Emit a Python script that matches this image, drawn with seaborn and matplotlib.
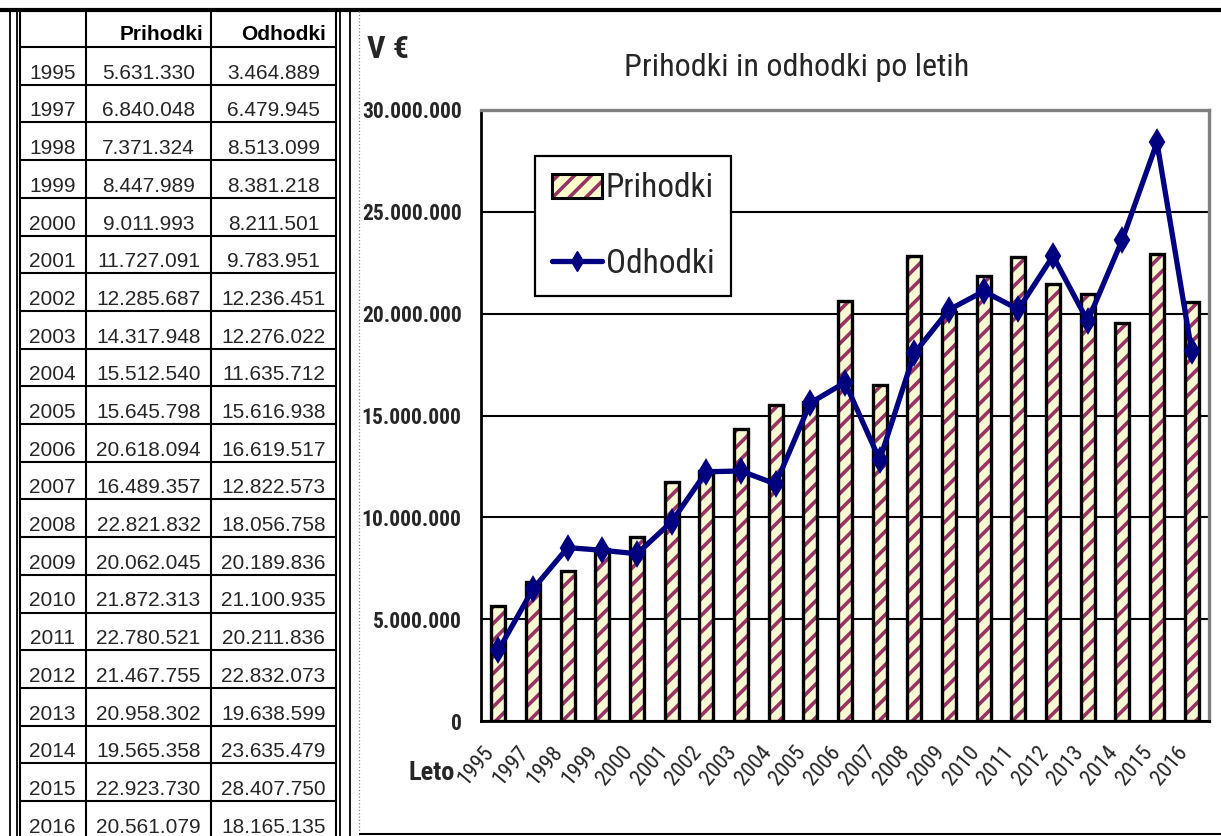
import numpy as np
import pandas as pd
import matplotlib
matplotlib.use("Agg")
import matplotlib.pyplot as plt
import seaborn as sns
from matplotlib import font_manager
from matplotlib.lines import Line2D
from matplotlib.patches import Patch

# ---------------- data ----------------
years = ["1995", "1997", "1998", "1999", "2000", "2001", "2002", "2003", "2004",
         "2005", "2006", "2007", "2008", "2009", "2010", "2011", "2012", "2013",
         "2014", "2015", "2016"]
prihodki = [5631330, 6840048, 7371324, 8447989, 9011993, 11727091, 12285687,
            14317948, 15512540, 15645798, 20618094, 16489357, 22821832, 20062045,
            21872313, 22780521, 21467755, 20958302, 19565358, 22923730, 20561079]
odhodki = [3464889, 6479945, 8513099, 8381218, 8211501, 9783951, 12236451,
           12276022, 11635712, 15616938, 16619517, 12822573, 18056758, 20189836,
           21100935, 20211836, 22832073, 19638599, 23635479, 28407750, 18165135]
series_names = ["Prihodki", "Odhodki"]
y_ticks = [0, 5000000, 10000000, 15000000, 20000000, 25000000, 30000000]
title_text = "Prihodki in odhodki po letih"
unit_text = "V €"
xlabel_text = "Leto"

# ---------------- style ----------------
sns.set_style("white")
names = {f.name for f in font_manager.fontManager.ttflist}
narrow = None
for cand in ["Roboto Condensed", "Liberation Sans Narrow", "Arial Narrow"]:
    if cand in names:
        narrow = cand
        break
if narrow is None:
    narrow = "Liberation Sans" if "Liberation Sans" in names else "DejaVu Sans"
    ns = 0.8
else:
    ns = 1.0
table_font = "Liberation Sans" if "Liberation Sans" in names else "DejaVu Sans"
plt.rcParams["font.family"] = [table_font, "DejaVu Sans"]
plt.rcParams["hatch.linewidth"] = 2.6

W, H = 1221, 836
fig = plt.figure(figsize=(W / 100, H / 100), dpi=100)

# ---------------- page / table background ----------------
bg = fig.add_axes([0, 0, 1, 1], zorder=0)
bg.set_xlim(0, W)
bg.set_ylim(H, 0)
bg.axis("off")

bg.hlines(9.5, 0, W, color="black", lw=3.0)
row0, rowh = 47.0, 37.7
table_bottom = H
for x, lw in [(10, 1.3), (16.5, 1.3), (19.5, 1.5), (86, 1.5), (211, 1.5),
              (336, 1.5), (339.5, 1.3), (350, 1.3)]:
    bg.vlines(x, 10, table_bottom, color="black", lw=lw)
for k in range(len(years) + 1):
    y = row0 + rowh * k
    if y < H:
        bg.hlines(y, 19.5, 336, color="black", lw=1.5)

def fmt(v):
    return f"{int(v):,}".replace(",", ".")

col_centers = [52.5, 148.5, 273.5]
col_rights = [None, 203, 326]
for j, name in enumerate(series_names):
    bg.text(col_rights[j + 1], 40, name, ha="right", va="baseline",
            fontsize=15, fontweight="bold", color="black")
for i, yr in enumerate(years):
    yb = row0 + rowh * (i + 1) - 6
    bg.text(col_centers[0], yb, yr, ha="center", va="baseline", fontsize=15)
    bg.text(col_centers[1], yb, fmt(prihodki[i]), ha="center", va="baseline", fontsize=15)
    bg.text(col_centers[2], yb, fmt(odhodki[i]), ha="center", va="baseline", fontsize=15)

# chart frame
bg.vlines(359, 11, 834, color="#888888", lw=0.9, linestyles=":")
bg.hlines(834, 359, W, color="black", lw=1.5)

# ---------------- chart ----------------
ax = fig.add_axes([481 / W, 1 - 721 / H, 728 / W, 611 / H], zorder=1)
df = pd.DataFrame({"Leto": years, "Prihodki": prihodki, "Odhodki": odhodki})

sns.barplot(data=df, x="Leto", y="Prihodki", color="#FFFFCC", width=0.4,
            ax=ax, zorder=2, legend=False)
for p in ax.patches:
    p.set_hatch("//")
    p.set_edgecolor("#993366")
    p.set_linewidth(0)
sns.barplot(data=df, x="Leto", y="Prihodki", color="black", fill=False,
            width=0.4, linewidth=2.4, ax=ax, zorder=3, legend=False)
sns.pointplot(data=df, x="Leto", y="Odhodki", color="#000080", markers="d",
              linestyles="-", errorbar=None, markersize=10, linewidth=3.8,
              ax=ax, zorder=4)

ax.set_xlim(-0.5, len(years) - 0.5)
ax.set_ylim(0, 30000000)
ax.set_yticks(y_ticks)
ax.set_yticklabels([fmt(v) for v in y_ticks])
ax.set_xlabel("")
ax.set_ylabel("")
ax.yaxis.grid(True, color="black", lw=1.5)
ax.set_axisbelow(True)

for lab in ax.get_yticklabels():
    lab.set_fontfamily(narrow)
    lab.set_fontweight("bold")
    lab.set_fontsize(15.5 * ns)
ax.tick_params(axis="y", length=5, width=1.5, pad=9, color="black")

ax.set_xticks(range(len(years)))
ax.set_xticklabels(years, rotation=50, ha="right", va="top",
                   fontfamily=narrow, fontsize=16 * ns)
ax.set_xticks(np.arange(-0.5, len(years), 1.0), minor=True)
ax.tick_params(axis="x", which="major", length=0, pad=15)
ax.tick_params(axis="x", which="minor", length=6, width=1.5, color="black")

for side in ["left", "bottom"]:
    ax.spines[side].set_color("black")
    ax.spines[side].set_linewidth(2.0)
for side in ["top", "right"]:
    ax.spines[side].set_color("#808080")
    ax.spines[side].set_linewidth(2.4)
    ax.spines[side].set_visible(True)

h1 = (Patch(facecolor="#FFFFCC", edgecolor="#993366", hatch="//", linewidth=0),
      Patch(facecolor="none", edgecolor="black", linewidth=2.2))
h2 = Line2D([], [], color="#000080", lw=3.8, marker="d", markersize=10)
leg = ax.legend([h1, h2], series_names, loc="upper left",
                bbox_to_anchor=(0.074, 0.925), borderaxespad=0,
                frameon=True, fancybox=False, edgecolor="black", framealpha=1,
                prop={"family": narrow, "size": 24 * ns},
                handlelength=1.5, handleheight=0.75, labelspacing=1.3,
                borderpad=0.5, handletextpad=0.12)
leg.get_frame().set_linewidth(1.6)
leg.set_zorder(6)

# ---------------- texts ----------------
fig.text(367 / W, 1 - 49 / H, unit_text, ha="left", va="center",
         fontfamily=narrow, fontweight="bold", fontsize=23 * ns)
fig.text(797 / W, 1 - 68 / H, title_text, ha="center", va="center",
         fontfamily=narrow, fontsize=23 * ns)
fig.text(408 / W, 1 - 773 / H, xlabel_text, ha="left", va="center",
         fontfamily=narrow, fontweight="bold", fontsize=19 * ns)

fig.savefig("out.png", dpi=100)
